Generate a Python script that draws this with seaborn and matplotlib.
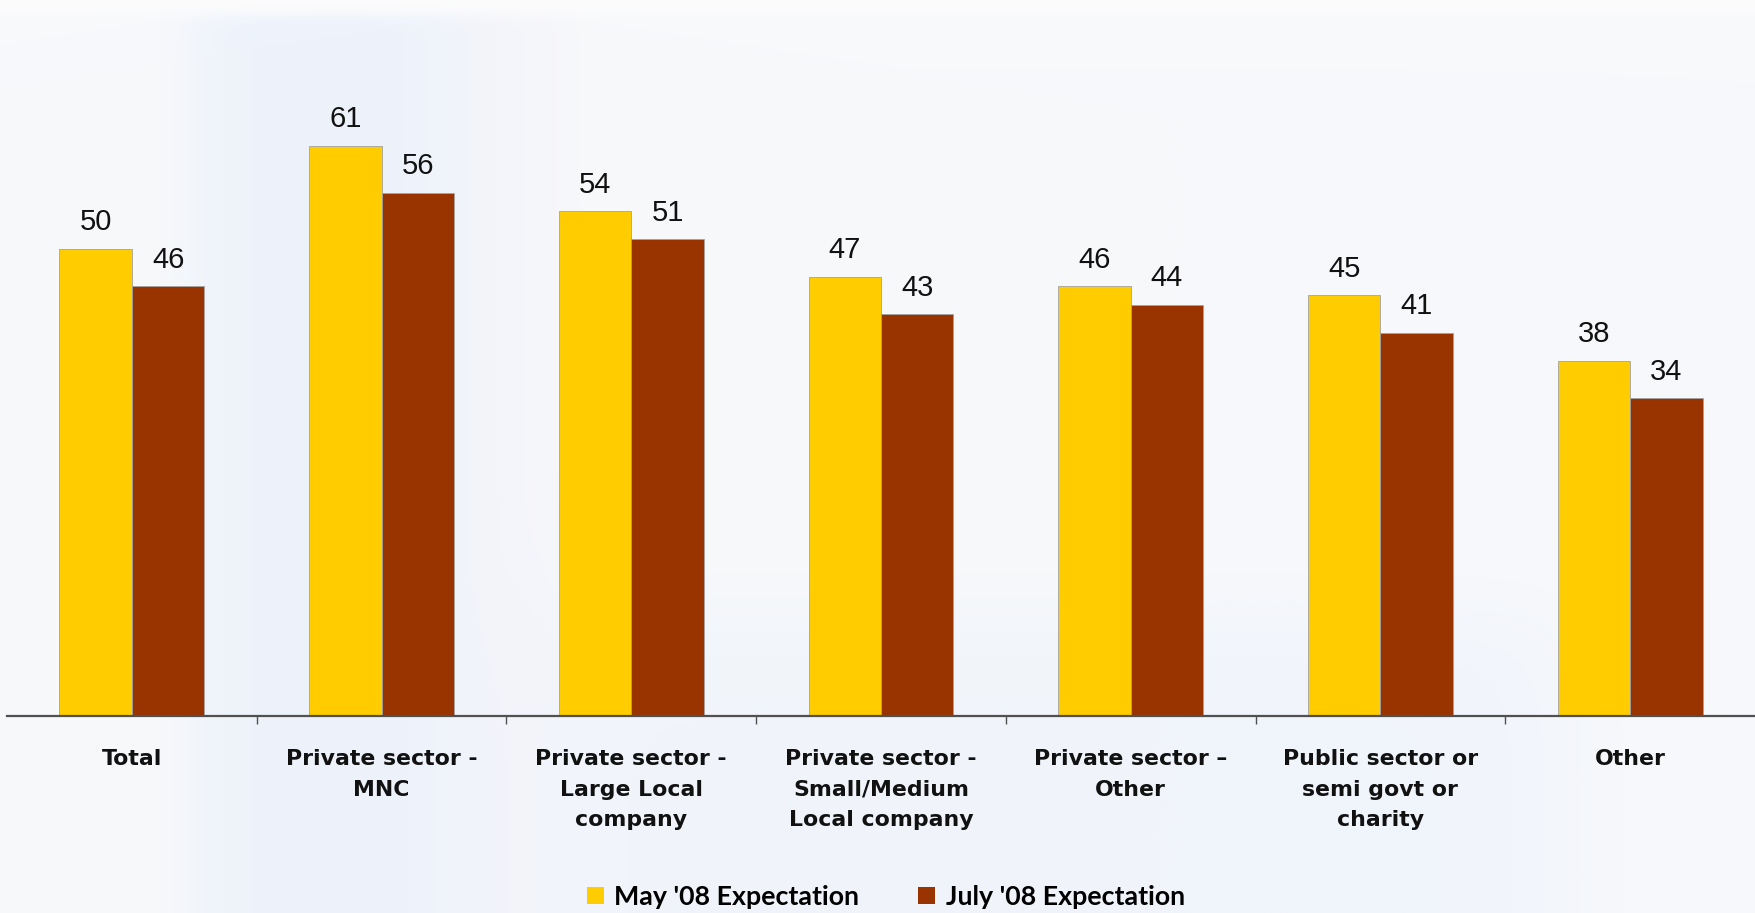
import numpy as np
import pandas as pd
import seaborn as sns
import matplotlib.pyplot as plt
from matplotlib.patches import Patch

# ---- data -------------------------------------------------------------
categories = [
    "Total",
    "Private sector -\nMNC",
    "Private sector -\nLarge Local\ncompany",
    "Private sector -\nSmall/Medium\nLocal company",
    "Private sector \u2013\nOther",
    "Public sector or\nsemi govt or\ncharity",
    "Other",
]
may_values = [50, 61, 54, 47, 46, 45, 38]
july_values = [46, 56, 51, 43, 44, 41, 34]
series_names = ["May '08 Expectation", "July '08 Expectation"]
series_colors = ["#FFCC00", "#993300"]

df = pd.DataFrame({
    "category": categories * 2,
    "series": [series_names[0]] * len(categories) + [series_names[1]] * len(categories),
    "value": may_values + july_values,
})

# ---- figure & soft slide background ------------------------------------
W, H = 1755, 913
fig = plt.figure(figsize=(W / 100, H / 100), dpi=100)

bg = fig.add_axes([0, 0, 1, 1], zorder=0)
bg.axis("off")
xs = np.linspace(0, W, 240)
ys = np.linspace(0, H, 120)
X, Y = np.meshgrid(xs, ys)


def window(v, a, b, soft):
    return 1 / (1 + np.exp(-(v - a) / soft)) * 1 / (1 + np.exp((v - b) / soft))


base = np.array([248, 249, 251], dtype=float)
blue = np.array([236, 242, 251], dtype=float)
lav = np.array([242, 242, 250], dtype=float)
w_band = window(X, 190, 470, 20) * 0.9
w_low = window(X, 480, 1580, 40) * window(Y, 610, 2000, 30) * 0.6
w_lav = window(X, 430, 560, 20) * 0.5
img = base[None, None, :] * np.ones(X.shape + (3,))
for col, w in ((blue, w_band), (blue, w_low), (lav, w_lav)):
    img = img + (col - img) * w[..., None]
top_w = window(Y, -100, 12, 3)
img = img + (np.array([252, 252, 253.0]) - img) * top_w[..., None]
bg.imshow(img / 255.0, extent=[0, 1, 0, 1], aspect="auto", interpolation="bicubic")
bg.set_xlim(0, 1)
bg.set_ylim(0, 1)

# ---- bars ----------------------------------------------------------------
ax = fig.add_axes([7 / W, (H - 716) / H, 1 - 7 / W, 716 / H], zorder=1)
ax.patch.set_alpha(0)

sns.barplot(
    data=df, x="category", y="value", hue="series",
    hue_order=series_names, order=categories,
    palette=series_colors, saturation=1, width=0.58, gap=0,
    errorbar=None, edgecolor="#a3a3a3", linewidth=0.6, ax=ax,
)

ax.set_xlim(-0.5, len(categories) - 0.5)
ax.set_ylim(0, 76.6)

for container in ax.containers:
    ax.bar_label(container, fmt="%d", padding=9, fontsize=21,
                 family="Liberation Sans", color="#111111")

for side in ("top", "right", "left"):
    ax.spines[side].set_visible(False)
ax.spines["bottom"].set_color("#505050")
ax.spines["bottom"].set_linewidth(1.6)

ax.set_yticks([])
ax.set_xlabel("")
ax.set_ylabel("")
ax.set_xticks(np.arange(len(categories)))
ax.set_xticklabels(categories, fontweight="bold", family="DejaVu Sans",
                   fontsize=15.8, linespacing=1.66, color="#111111")
ax.set_xticks(np.arange(0.5, len(categories) - 1, 1), minor=True)
ax.tick_params(axis="x", which="major", length=0, pad=24)
ax.tick_params(axis="x", which="minor", length=6, width=1, color="#505050",
               direction="out", bottom=True)

# ---- legend ----------------------------------------------------------------
ax.get_legend().remove()
handles = [Patch(facecolor=c, edgecolor="none") for c in series_colors]
fig.legend(
    handles, series_names, loc="center", bbox_to_anchor=(886 / W, 1 - 897 / H),
    ncol=2, frameon=False, prop={"family": "Lato", "size": 19.3, "weight": "bold"},
    handlelength=0.62, handleheight=0.62, handletextpad=0.4,
    columnspacing=2.2, borderpad=0,
)

fig.savefig("out.png", dpi=100)
